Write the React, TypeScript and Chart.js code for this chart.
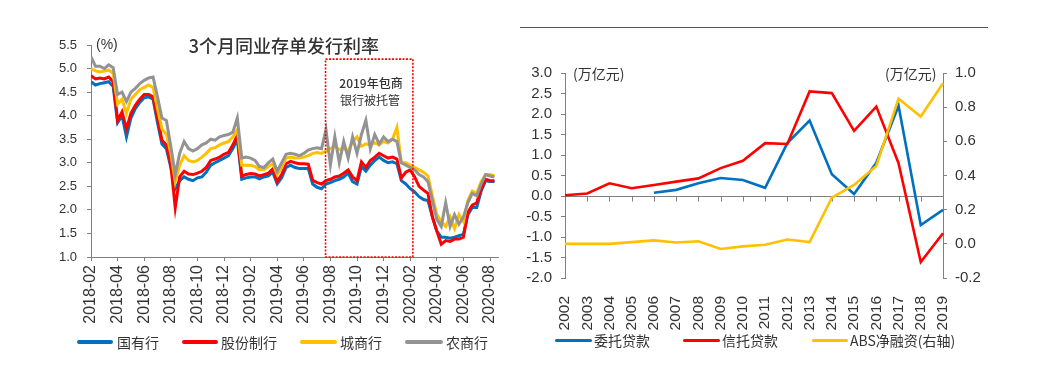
import React, { useEffect, useRef } from 'react';
import { Chart, registerables } from 'chart.js';
Chart.register(...registerables);

// ---------- Left chart data: 3-month NCD issuance rates (%) ----------
const rateMonths = [
  '2018-02', '2018-03', '2018-04', '2018-05', '2018-06', '2018-07', '2018-08', '2018-09', '2018-10', '2018-11', '2018-12',
  '2019-01', '2019-02', '2019-03', '2019-04', '2019-05', '2019-06', '2019-07', '2019-08', '2019-09', '2019-10', '2019-11', '2019-12',
  '2020-01', '2020-02', '2020-03', '2020-04', '2020-05', '2020-06', '2020-07', '2020-08',
];
const rateDays = ['01', '11', '21'];
const rateDates: string[] = [];
rateMonths.forEach((m) => rateDays.forEach((d) => rateDates.push(`${m}-${d}`)));

const stateOwned = [
  4.72, 4.65, 4.68, 4.70, 4.72, 4.62, 3.85, 4.00, 3.55, 3.95, 4.15, 4.28, 4.38, 4.40, 4.35,
  3.85, 3.40, 3.30, 2.90, 2.45, 2.62, 2.70, 2.65, 2.62, 2.68, 2.70, 2.80, 2.95, 3.00, 3.05,
  3.10, 3.15, 3.30, 3.50, 2.65, 2.68, 2.70, 2.70, 2.66, 2.70, 2.72, 2.80, 2.55, 2.68, 2.90,
  2.95, 2.90, 2.88, 2.88, 2.88, 2.55, 2.48, 2.45, 2.55, 2.58, 2.62, 2.65, 2.70, 2.78, 2.60,
  2.55, 2.92, 2.82, 2.95, 3.05, 3.12, 3.05, 3.00, 3.02, 2.98, 2.62, 2.55, 2.45, 2.38, 2.28,
  2.22, 2.20, 1.85, 1.55, 1.42, 1.42, 1.40, 1.42, 1.45, 1.48, 1.90, 2.05, 2.05, 2.40, 2.62,
  2.60, 2.60,
];
const jointStock = [
  4.85, 4.78, 4.80, 4.78, 4.82, 4.72, 3.90, 4.08, 3.72, 4.05, 4.22, 4.35, 4.45, 4.45, 4.40,
  3.95, 3.48, 3.38, 2.95, 2.05, 2.70, 2.82, 2.76, 2.75, 2.78, 2.82, 2.90, 3.05, 3.08, 3.12,
  3.18, 3.22, 3.38, 3.58, 2.72, 2.75, 2.77, 2.76, 2.72, 2.75, 2.78, 2.87, 2.60, 2.75, 2.98,
  3.03, 3.00, 2.98, 2.98, 2.97, 2.63, 2.58, 2.55, 2.62, 2.65, 2.70, 2.72, 2.78, 2.85, 2.70,
  2.62, 3.02, 2.90, 3.05, 3.12, 3.20, 3.15, 3.10, 3.12, 3.08, 2.68, 2.80, 2.85, 2.70, 2.50,
  2.42, 2.35, 1.85, 1.55, 1.27, 1.35, 1.33, 1.38, 1.38, 1.42, 1.95, 2.10, 2.15, 2.45, 2.65,
  2.62, 2.62,
];
const cityComm = [
  5.00, 4.95, 4.93, 4.95, 4.97, 4.90, 4.25, 4.35, 4.05, 4.35, 4.45, 4.55, 4.60, 4.65, 4.60,
  4.15, 3.72, 3.60, 3.20, 2.60, 2.95, 3.15, 3.05, 3.02, 3.05, 3.12, 3.20, 3.30, 3.32, 3.38,
  3.42, 3.45, 3.55, 3.70, 2.95, 2.95, 2.95, 2.92, 2.85, 2.85, 2.92, 2.98, 2.75, 2.90, 3.10,
  3.12, 3.10, 3.10, 3.12, 3.15, 3.20, 3.22, 3.20, 3.25, 3.30, 3.35, 3.28, 3.30, 3.25, 3.45,
  3.55, 3.35, 3.40, 3.38, 3.42, 3.38, 3.45, 3.42, 3.50, 3.75, 3.00, 3.00, 2.95, 2.90, 2.85,
  2.80, 2.72, 2.30, 1.90, 1.75, 1.65, 1.85, 1.60, 1.90, 1.75, 2.20, 2.40, 2.35, 2.60, 2.75,
  2.75, 2.72,
];
const ruralComm = [
  5.25, 5.05, 5.05, 5.00, 5.08, 5.02, 4.45, 4.50, 4.30, 4.50, 4.58, 4.68, 4.75, 4.80, 4.82,
  4.40, 3.95, 3.90, 3.35, 2.75, 3.20, 3.45, 3.30, 3.25, 3.30, 3.38, 3.42, 3.50, 3.48, 3.55,
  3.58, 3.60, 3.65, 3.95, 3.10, 3.12, 3.10, 3.05, 2.92, 2.90, 3.00, 3.08, 2.82, 3.00, 3.18,
  3.20, 3.18, 3.15, 3.20, 3.27, 3.30, 3.32, 3.30, 3.70, 2.95, 3.55, 3.00, 3.45, 3.10, 3.55,
  3.20, 3.60, 3.90, 3.30, 3.60, 3.40, 3.55, 3.45, 3.50, 3.45, 3.00, 2.95, 2.90, 2.85, 2.75,
  2.70, 2.60, 2.20, 1.80, 1.65, 2.15, 1.65, 1.90, 1.70, 1.85, 2.15, 2.35, 2.30, 2.55, 2.75,
  2.72, 2.70,
];
const rateTickLabels = [
  '2018-02', '2018-04', '2018-06', '2018-08', '2018-10', '2018-12', '2019-02', '2019-04',
  '2019-06', '2019-08', '2019-10', '2019-12', '2020-02', '2020-04', '2020-06', '2020-08',
];
const boxStart = '2019-07-20';
const boxEnd = '2020-02-07';
const boxTop = 5.2;

// ---------- Right chart data (万亿元) ----------
const years = ['2002', '2003', '2004', '2005', '2006', '2007', '2008', '2009', '2010', '2011', '2012', '2013', '2014', '2015', '2016', '2017', '2018', '2019'];
const entrusted = [null, null, null, null, 0.08, 0.15, 0.31, 0.44, 0.39, 0.20, 1.29, 1.84, 0.53, 0.05, 0.81, 2.20, -0.71, -0.34];
const trustLoans = [0.02, 0.06, 0.31, 0.19, 0.27, 0.35, 0.43, 0.68, 0.86, 1.29, 1.27, 2.55, 2.51, 1.59, 2.18, 0.80, -1.61, -0.91];
const absNet = [0.0, 0.0, 0.0, 0.01, 0.02, 0.008, 0.015, -0.03, -0.015, -0.005, 0.025, 0.01, 0.27, 0.345, 0.456, 0.85, 0.745, 0.94];

const toMonths = (s: string) => {
  const [y, m, d] = s.split('-').map(Number);
  return (y - 2018) * 12 + (m - 2) + (d - 1) / 30;
};

const AXIS = '#808080';
const TXT = '#333333';
const CJK = '"Noto Sans CJK SC", "Noto Sans", sans-serif';
const LAT = '"Liberation Sans", Arial, sans-serif';

const fmt1 = (v: any) => {
  const n = Number(v);
  return Math.abs(n) < 1e-9 ? '0.0' : n.toFixed(1);
};

const boxPlugin = {
  id: 'boxPlugin',
  afterDatasetsDraw(chart: any) {
    const { ctx, scales } = chart;
    const x1 = scales.x.getPixelForValue(toMonths(boxStart));
    const x2 = scales.x.getPixelForValue(toMonths(boxEnd));
    const y1 = scales.y.getPixelForValue(boxTop);
    const y2 = scales.y.getPixelForValue(1);
    ctx.save();
    ctx.strokeStyle = '#FF0000';
    ctx.lineWidth = 1.6;
    ctx.setLineDash([2, 1.5]);
    ctx.strokeRect(x1, y1, x2 - x1, y2 - y1);
    ctx.restore();
  },
};

const zeroLinePlugin = {
  id: 'zeroLinePlugin',
  beforeDatasetsDraw(chart: any) {
    const { ctx, scales, chartArea } = chart;
    const y0 = Math.round(scales.y.getPixelForValue(0)) + 0.5;
    ctx.save();
    ctx.strokeStyle = AXIS;
    ctx.lineWidth = 1;
    ctx.beginPath();
    ctx.moveTo(chartArea.left, y0);
    ctx.lineTo(chartArea.right, y0);
    years.forEach((_, i) => {
      const x = Math.round(scales.x.getPixelForValue(i)) + 0.5;
      ctx.moveTo(x, y0);
      ctx.lineTo(x, y0 + 5);
    });
    ctx.stroke();
    ctx.restore();
  },
};

function LeftChart() {
  const ref = useRef<HTMLCanvasElement>(null);
  useEffect(() => {
    const mk = (vals: number[]) => rateDates.map((d, i) => ({ x: toMonths(d), y: vals[i] }));
    const common = { pointRadius: 0, borderWidth: 3, tension: 0, fill: false };
    const chart = new Chart(ref.current!, {
      type: 'line',
      data: {
        datasets: [
          { label: '国有行', data: mk(stateOwned), borderColor: '#0070C0', order: 3, ...common },
          { label: '股份制行', data: mk(jointStock), borderColor: '#FF0000', order: 2, ...common },
          { label: '城商行', data: mk(cityComm), borderColor: '#FFC000', order: 1, ...common },
          { label: '农商行', data: mk(ruralComm), borderColor: '#939393', order: 0, ...common },
        ],
      },
      options: {
        animation: false,
        responsive: false,
        layout: { padding: { left: 0, top: 45, right: 22, bottom: 0 } },
        plugins: { legend: { display: false }, tooltip: { enabled: false } },
        scales: {
          x: {
            type: 'linear',
            min: 0,
            max: 30.6,
            afterBuildTicks: (s: any) => {
              s.ticks = rateTickLabels.map((_, i) => ({ value: i * 2 }));
            },
            afterFit: (s: any) => {
              s.height = 124;
            },
            ticks: {
              autoSkip: false,
              minRotation: 90,
              maxRotation: 90,
              padding: 4,
              color: TXT,
              font: { family: LAT, size: 16 },
              callback: (v: any) => rateTickLabels[Math.round(Number(v) / 2)] ?? '',
            },
            grid: { drawOnChartArea: false, drawTicks: true, tickLength: 4, tickColor: AXIS },
            border: { display: true, color: AXIS, width: 1 },
          },
          y: {
            min: 1,
            max: 5.5,
            afterFit: (s: any) => {
              s.width = 91;
            },
            ticks: { stepSize: 0.5, autoSkip: false, padding: 10, color: TXT, font: { family: LAT, size: 13 }, callback: fmt1 },
            grid: { drawOnChartArea: false, drawTicks: true, tickLength: 4, tickColor: AXIS },
            border: { display: true, color: AXIS, width: 1 },
          },
        },
      } as any,
      plugins: [boxPlugin],
    });
    return () => chart.destroy();
  }, []);
  return <canvas ref={ref} width={520} height={381} style={{ width: 520, height: 381, display: 'block' }} />;
}

function RightChart() {
  const ref = useRef<HTMLCanvasElement>(null);
  useEffect(() => {
    const common = { pointRadius: 0, borderWidth: 2.6, tension: 0, fill: false };
    const chart = new Chart(ref.current!, {
      type: 'line',
      data: {
        labels: years,
        datasets: [
          { label: '委托贷款', data: entrusted, borderColor: '#0070C0', yAxisID: 'y', order: 2, ...common },
          { label: '信托贷款', data: trustLoans, borderColor: '#FF0000', yAxisID: 'y', order: 1, ...common },
          { label: 'ABS净融资(右轴)', data: absNet, borderColor: '#FFC000', yAxisID: 'y1', order: 0, ...common },
        ],
      },
      options: {
        animation: false,
        responsive: false,
        layout: { padding: { left: 0, top: 73, right: 38, bottom: 0 } },
        plugins: { legend: { display: false }, tooltip: { enabled: false } },
        scales: {
          x: {
            type: 'category',
            offset: false,
            afterFit: (s: any) => {
              s.height = 103;
            },
            ticks: { autoSkip: false, minRotation: 90, maxRotation: 90, padding: 10, color: TXT, font: { family: LAT, size: 15.5 } },
            grid: { display: false },
            border: { display: false },
          },
          y: {
            position: 'left',
            min: -2,
            max: 3,
            afterFit: (s: any) => {
              s.width = 45;
            },
            ticks: { stepSize: 0.5, autoSkip: false, padding: 9, color: TXT, font: { family: LAT, size: 15 }, callback: fmt1 },
            grid: { drawOnChartArea: false, drawTicks: true, tickLength: 4, tickColor: AXIS },
            border: { display: true, color: AXIS, width: 1 },
          },
          y1: {
            position: 'right',
            min: -0.2,
            max: 1.0,
            afterFit: (s: any) => {
              s.width = 60;
            },
            ticks: { stepSize: 0.2, autoSkip: false, padding: 8, color: TXT, font: { family: LAT, size: 15 }, callback: fmt1 },
            grid: { drawOnChartArea: false, drawTicks: true, tickLength: 4, tickColor: AXIS },
            border: { display: true, color: AXIS, width: 1 },
          },
        },
      } as any,
      plugins: [zeroLinePlugin],
    });
    return () => chart.destroy();
  }, []);
  return <canvas ref={ref} width={521} height={381} style={{ width: 521, height: 381, display: 'block' }} />;
}

function Text(props: { x: number; cy: number; size: number; children: React.ReactNode; center?: boolean; w?: number; family?: string; weight?: number }) {
  const h = props.size + 4;
  const style: React.CSSProperties = {
    position: 'absolute',
    top: props.cy - h / 2,
    height: h,
    lineHeight: `${h}px`,
    fontSize: props.size,
    fontFamily: props.family ?? CJK,
    fontWeight: props.weight ?? 400,
    color: TXT,
    whiteSpace: 'nowrap',
  };
  if (props.center) {
    const w = props.w ?? 300;
    style.left = props.x - w / 2;
    style.width = w;
    style.textAlign = 'center';
  } else {
    style.left = props.x;
  }
  return <div style={style}>{props.children}</div>;
}

function LegendItem(props: { x1: number; x2: number; tx: number; cy: number; color: string; thick: number; label: string }) {
  return (
    <>
      <div
        style={{
          position: 'absolute',
          left: props.x1,
          top: props.cy - props.thick / 2,
          width: props.x2 - props.x1,
          height: props.thick,
          background: props.color,
          borderRadius: props.thick / 2,
        }}
      />
      <Text x={props.tx} cy={props.cy} size={14}>
        {props.label}
      </Text>
    </>
  );
}

export default function App() {
  return (
    <div style={{ position: 'absolute', left: 0, top: 0, width: 1041, height: 381, background: '#ffffff', overflow: 'hidden' }}>
      <div style={{ position: 'absolute', left: 0, top: 0 }}>
        <LeftChart />
      </div>
      <div style={{ position: 'absolute', left: 520, top: 0 }}>
        <RightChart />
      </div>

      {/* left chart texts */}
      <Text x={284} cy={45} size={18} center w={260} weight={500}>
        3个月同业存单发行利率
      </Text>
      <Text x={96} cy={44} size={14} family={LAT}>
        (%)
      </Text>
      <Text x={371} cy={83} size={12} center w={90} weight={500}>
        2019年包商
      </Text>
      <Text x={370} cy={100} size={12} center w={90}>
        银行被托管
      </Text>
      <LegendItem x1={77} x2={113} tx={117} cy={342} color="#0070C0" thick={4} label="国有行" />
      <LegendItem x1={182} x2={218} tx={221} cy={342} color="#FF0000" thick={4} label="股份制行" />
      <LegendItem x1={300} x2={337} tx={340} cy={342} color="#FFC000" thick={4} label="城商行" />
      <LegendItem x1={405} x2={443} tx={446} cy={342} color="#939393" thick={4} label="农商行" />

      {/* right chart texts */}
      <div style={{ position: 'absolute', left: 520, top: 27, width: 468, height: 1, background: '#555555' }} />
      <Text x={573} cy={73} size={14}>
        (万亿元)
      </Text>
      <Text x={885} cy={73} size={14}>
        (万亿元)
      </Text>
      <LegendItem x1={555} x2={592} tx={594} cy={340} color="#0070C0" thick={3} label="委托贷款" />
      <LegendItem x1={683} x2={720} tx={722} cy={340} color="#FF0000" thick={3} label="信托贷款" />
      <LegendItem x1={812} x2={848} tx={850} cy={340} color="#FFC000" thick={3} label="ABS净融资(右轴)" />
    </div>
  );
}
